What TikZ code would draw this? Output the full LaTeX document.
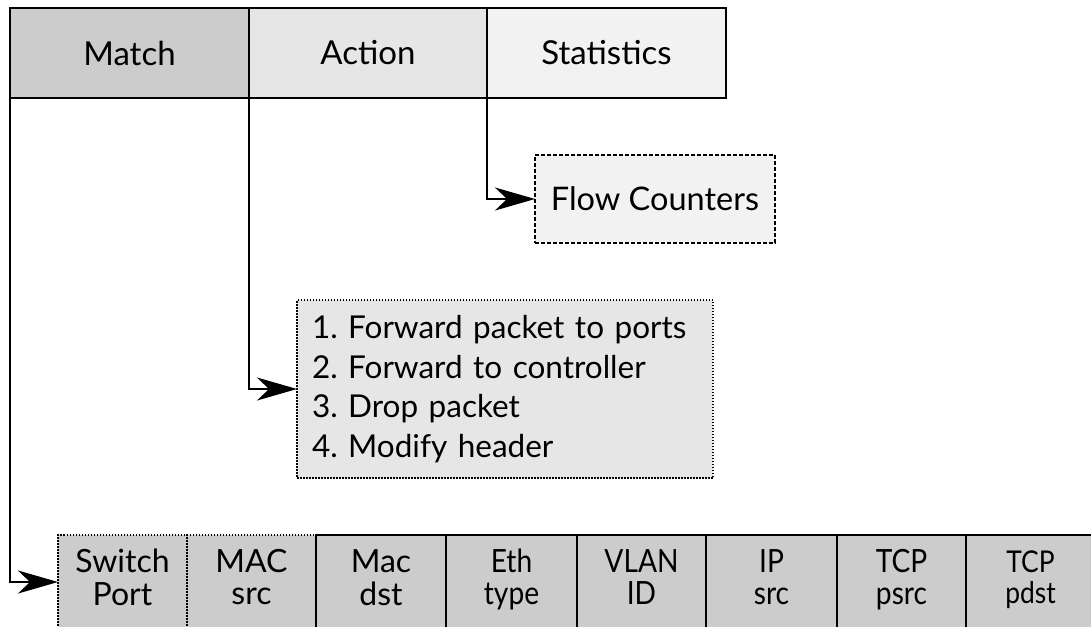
\documentclass[tikz,border=0pt]{standalone}
\usepackage{fontspec}
\setmainfont{Lato}
\usetikzlibrary{arrows.meta,calc}
\definecolor{gdark}{HTML}{CCCCCC}
\definecolor{gmid}{HTML}{E6E6E6}
\definecolor{glight}{HTML}{F2F2F2}
\frenchspacing
% two stacked lines of a field label, optionally squeezed horizontally
\newcommand\fieldlabel[3][1]{\scalebox{#1}[1]{\begin{tabular}{@{}c@{}}#2\\#3\end{tabular}}}

\begin{document}
\begin{tikzpicture}[x=1pt,y=-1pt,
  every node/.style={inner sep=0pt,outer sep=0pt},
  hdr/.style={draw,line width=2pt,anchor=north west,minimum height=90pt,
    font=\fontsize{33}{38}\selectfont},
  field/.style={draw,line width=1.6pt,anchor=north west,minimum height=94pt,
    fill=gdark,font=\fontsize{32}{32}\selectfont},
  dotbox/.style={draw,line width=1.6pt,dash pattern=on 1.5pt off 1.5pt},
  conn/.style={line width=2pt,-{Stealth[length=40pt,width=23pt,inset=12pt]}}]
\useasboundingbox (0,0) rectangle (1091,626);

% flow table header
\node[hdr,fill=gdark,minimum width=239pt] (match) at (10,8) {Match};
\node[hdr,fill=gmid,minimum width=238pt] (action) at (249,8) {Action};
\node[hdr,fill=glight,minimum width=239pt] (stats) at (487,8) {Statistics};

% statistics target
\node[draw,line width=1.6pt,dash pattern=on 4pt off 2pt,fill=glight,
  anchor=north west,minimum width=240pt,minimum height=88pt,
  font=\fontsize{32.5}{38}\selectfont] (counters) at (535,155) {Flow Counters};

% action list
\node[dotbox,fill=gmid,anchor=north west,minimum width=416pt,minimum height=178pt,
  align=left,text width=386pt,font=\fontsize{31.5}{39.5}\selectfont] (acts) at (297,300)
  {1. Forward packet to ports\\2. Forward to controller\\3. Drop packet\\4. Modify header};

% header fields of the match
\node[field,dotbox,minimum width=129pt] (swport) at (58,535) {\fieldlabel{Switch}{Port}};
\node[field,dotbox,minimum width=129pt] (macsrc) at (187,535) {\fieldlabel{MAC}{src}};
\node[field,minimum width=130pt] (macdst) at (316,535) {\fieldlabel{Mac}{dst}};
\node[field,minimum width=131pt] (ethtype) at (446,535) {\fieldlabel[0.88]{Eth}{type}};
\node[field,minimum width=129pt] (vlan) at (577,535) {\fieldlabel[0.88]{VLAN}{ID}};
\node[field,minimum width=131pt] (ipsrc) at (706,535) {\fieldlabel[0.88]{IP}{src}};
\node[field,minimum width=129pt] (psrc) at (837,535) {\fieldlabel[0.88]{TCP}{psrc}};
\node[field,minimum width=129pt] (pdst) at (966,535)
  {\fontsize{30}{31}\selectfont\fieldlabel[0.88]{TCP}{pdst}};

% connectors
\draw[conn] (stats.south west) |- (counters.west);
\draw[conn] (action.south west) |- (acts.west);
\draw[conn] (match.south west) |- (swport.west);
\end{tikzpicture}
\end{document}
